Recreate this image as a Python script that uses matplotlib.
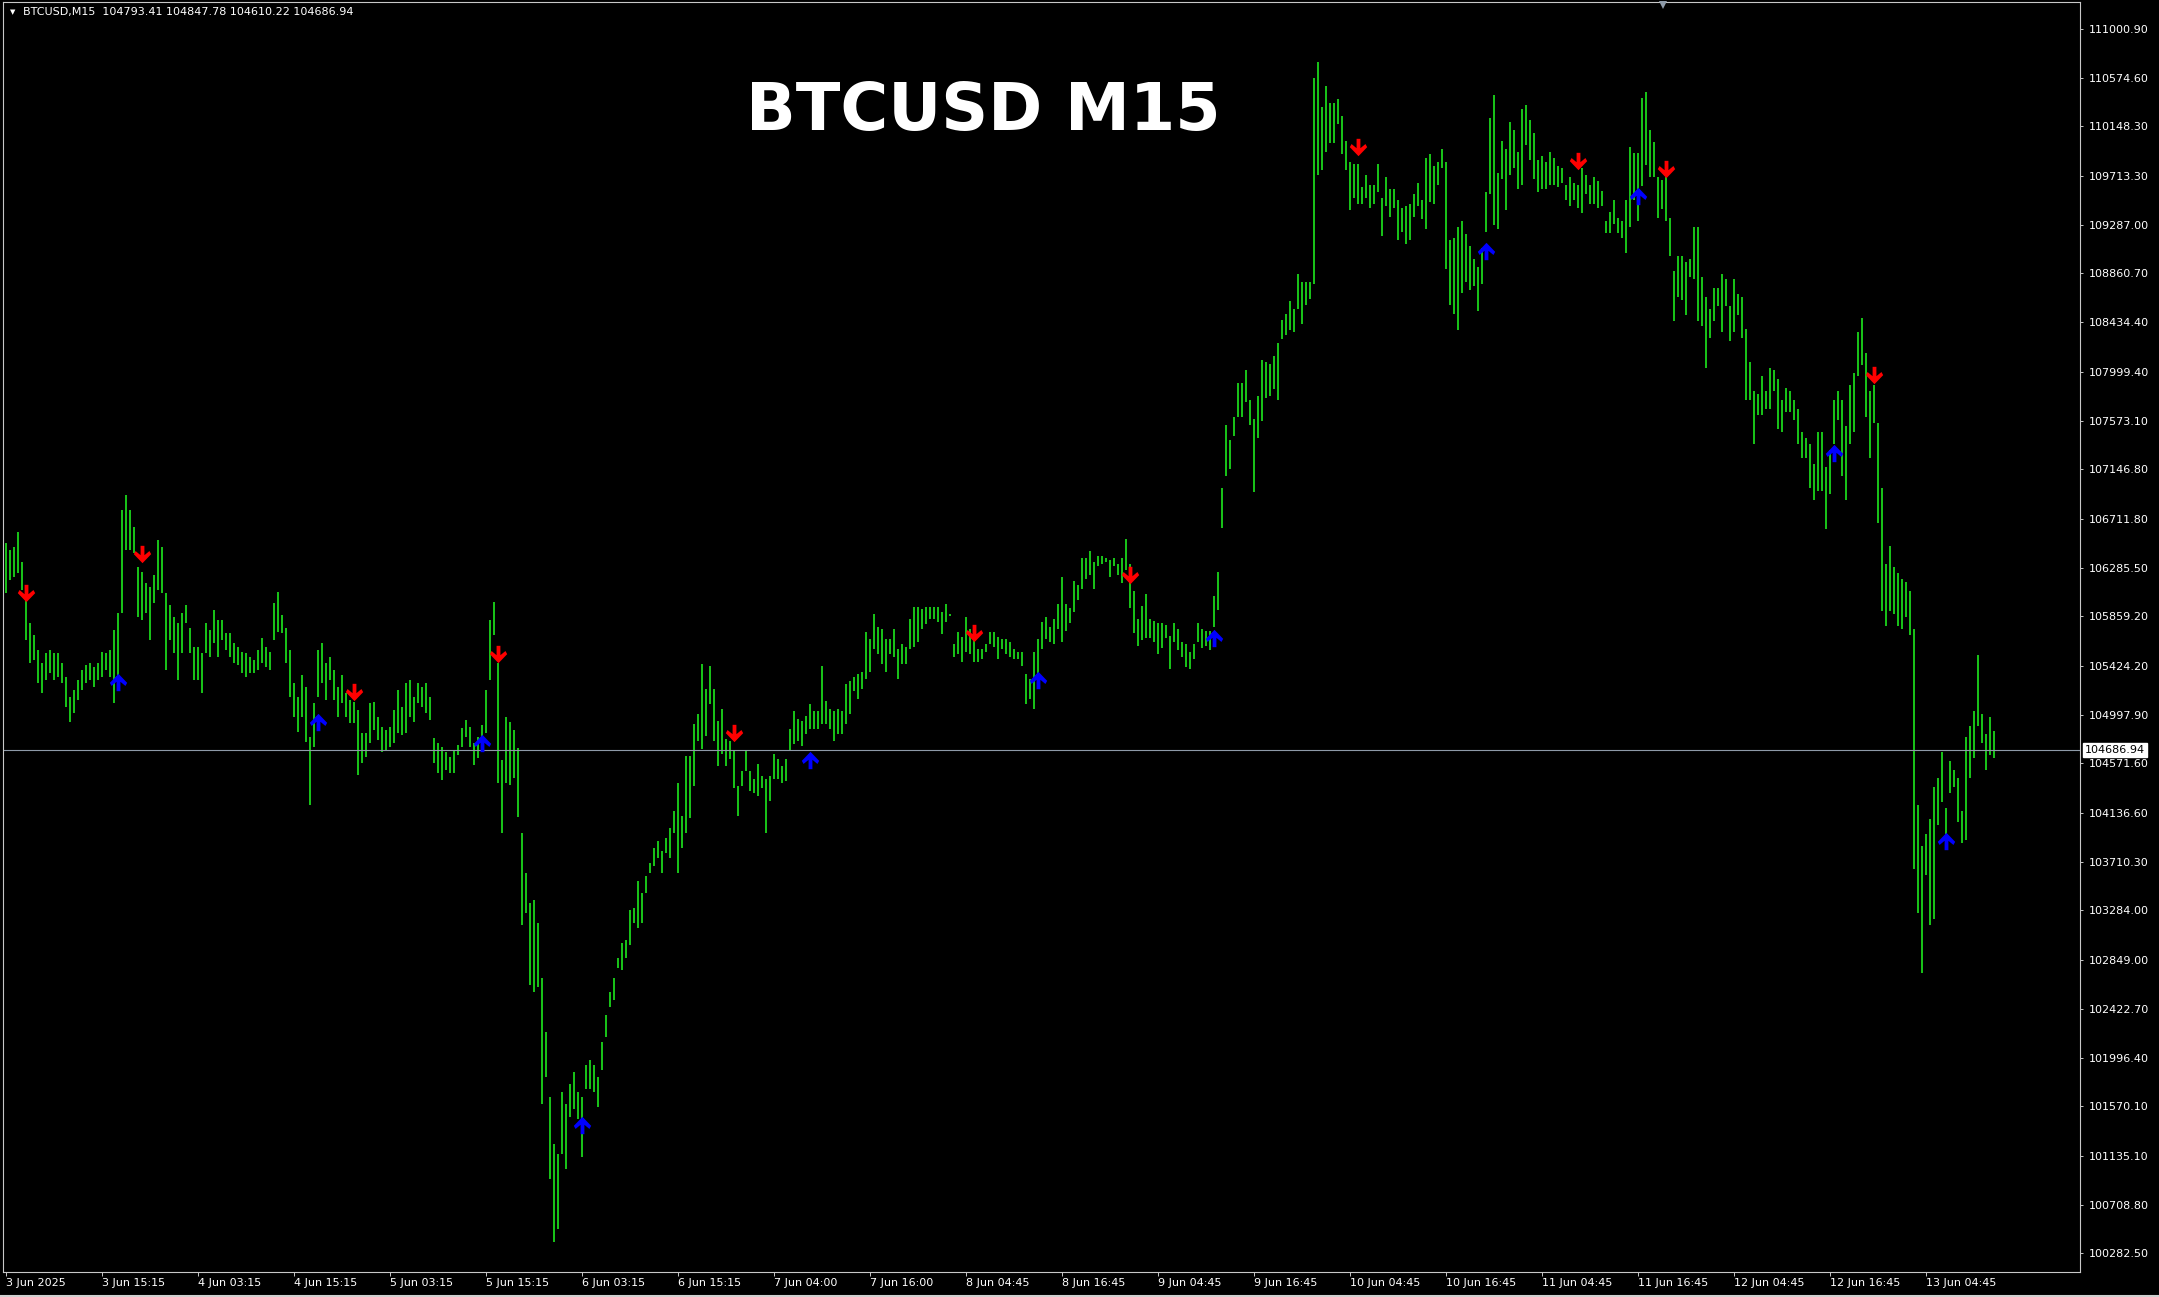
import matplotlib
matplotlib.use("Agg")
import matplotlib.pyplot as plt
from matplotlib.path import Path
from matplotlib.lines import Line2D
import numpy as np

# BTCUSD M15 - highs and lows (one entry = half an hour)
highs = [
    106498, 106440, 106469, 106600, 106337, 106016, 105798, 105695, 105564, 105447,
    105535, 105564, 105535, 105535, 105447, 105331, 105156, 105214, 105302, 105389,
    105433, 105447, 105418, 105447, 105550, 105535, 105564, 105739, 105885, 106790,
    106921, 106790, 106644, 106294, 106250, 106148, 106119, 106221, 106527, 106469,
    106060, 105958, 105856, 105798, 105885, 105958, 105754, 105593, 105593, 105535,
    105798, 105739, 105914, 105827, 105827, 105710, 105710, 105623, 105593, 105550,
    105535, 105506, 105477, 105564, 105666, 105593, 105550, 105973, 106075, 105871,
    105754, 105564, 105272, 105156, 105345, 105243, 104806, 105097, 105564, 105623,
    105447, 105506, 105389, 105243, 105345, 105185, 105127, 105112, 105039, 104835,
    104835, 105097, 105112, 104981, 104893, 104864, 104893, 105039, 105214, 105068,
    105272, 105302, 105156, 105272, 105243, 105272, 105156, 104791, 104747, 104718,
    104674, 104630, 104689, 104733, 104879, 104951, 104893, 104747, 104806, 104908,
    105214, 105827, 105987, 105447, 104601, 104981, 104937, 104864, 104703,
    103960, 103612, 103350, 103372, 103176, 102697, 102218, 101652, 101238, 101151,
    101695, 101586, 101761, 101869, 101695, 101652, 101935, 101978, 101935, 101826,
    102131, 102370, 102566, 102697, 102871, 103002, 103024, 103285, 103307, 103546,
    103438, 103590, 103699, 103830, 103895, 103808, 103917, 104004, 104156, 104396,
    104113, 104635, 104635, 104919, 105006, 105441, 105223, 105420, 105223, 104940,
    105049, 104788, 104766, 104679, 104374, 104505, 104679, 104505, 104439, 104570,
    104461, 104439, 104461, 104657, 104614, 104548, 104614, 104875, 105027, 104962,
    104940, 104984, 105093, 105027, 105027, 105420, 105115, 105049, 105027, 105049,
    105027, 105267, 105289, 105332, 105354, 105376, 105725, 105659, 105877, 105768,
    105746, 105659, 105659, 105746, 105572, 105616, 105594, 105833, 105942, 105942,
    105920, 105942, 105942, 105942, 105942, 105899, 105964, 105880, 105616, 105724,
    105681, 105855, 105746, 105659, 105572, 105572, 105616, 105724, 105724, 105681,
    105659, 105659, 105637, 105572, 105550, 105550, 105354, 105311, 105550, 105659,
    105812, 105855, 105768, 105833, 105964,
    106207, 105967, 105930, 106170, 106133, 106372, 106372, 106428, 106336, 106391,
    106391, 106372, 106354, 106372, 106317, 106372, 106538, 106317, 106078, 105838,
    105949, 106059, 105838, 105820, 105801, 105801, 105783, 105691, 105801, 105746,
    105636, 105617, 105543, 105617, 105801, 105746, 105728, 105728, 106041, 106244,
    106980, 107533, 107404, 107607, 107902, 107902, 108012, 107754, 107589, 107791,
    108104, 108086, 108067, 108141, 108252, 108455, 108510, 108620, 108547, 108860,
    108786, 108786, 108786, 110573, 110713, 110315, 110500, 110352, 110352, 110389,
    110242, 110021, 109836, 109818, 109818, 109615, 109726, 109634, 109634, 109818,
    109523, 109707, 109597, 109597, 109505, 109431, 109449, 109468, 109560, 109652,
    109505, 109873, 109910, 109800, 109836, 109947, 109836, 109155, 109173, 109265,
    109320, 109210, 109099, 108989, 108915, 109081, 109578, 110223, 110426, 109744,
    110021, 109947, 110186, 110113, 109928, 110297, 110334, 110205, 110094, 109855,
    109892, 109836, 109928, 109873, 109800, 109781, 109634, 109707, 109652, 109634,
    109781, 109726, 109634, 109707, 109671,
    109579, 109322, 109399, 109502, 109348, 109322, 109502, 109964, 109913, 109913,
    110401, 110452, 110118, 110015, 109707, 109682, 109707, 109348, 108885, 109014,
    109014, 108962, 108988, 109270, 109270, 108834, 108654, 108551, 108731, 108731,
    108860, 108808, 108577, 108808, 108680, 108654, 108371, 108089, 107832, 107806,
    107960, 107832, 108037, 108012, 107935, 107755, 107858, 107832, 107755, 107678,
    107472, 107421, 107369, 107190, 107472, 107472, 107164, 107318, 107755, 107832,
    107755, 107524, 107883, 107986, 108346, 108474, 108166, 107832, 107883, 107549,
    106984, 106316, 106471, 106291, 106239, 106188, 106162, 106085, 105751, 104210,
    103850, 103952, 104081, 104363, 104441, 104672, 104184, 104595, 104518, 104441,
    104158, 104800, 104903, 105031, 105520, 105006, 104826, 104980, 104852,
]

lows = [
    106060, 106177, 106206, 106235, 106089, 105652, 105447, 105477, 105272, 105185,
    105302, 105360, 105302, 105331, 105272, 105068, 104937, 105010, 105127, 105214,
    105272, 105302, 105243, 105302, 105331, 105389, 105331, 105097, 105214, 105885,
    106440, 106440, 106410, 105856, 105827, 105885, 105652, 105973, 106089, 106060,
    105389, 105652, 105535, 105302, 105535, 105798, 105535, 105302, 105302, 105185,
    105535, 105506, 105623, 105506, 105652, 105564, 105506, 105447, 105433, 105360,
    105331, 105360, 105360, 105389, 105447, 105418, 105389, 105652, 105725, 105710,
    105447, 105156, 104981, 104849, 104981, 104762, 104207, 104718, 105156, 105272,
    105127, 105302, 105127, 104981, 105097, 104981, 104922, 104922, 104470, 104572,
    104630, 104747, 104864, 104776, 104674, 104689, 104718, 104747, 104835, 104820,
    104835, 104981, 104937, 105097, 105068, 105010, 104951, 104572, 104485, 104426,
    104514, 104485, 104485, 104645, 104718, 104806, 104718, 104557, 104616, 104747,
    104835, 105302, 105695, 104397, 103959, 104397, 104382, 104441, 104105,
    103154, 103263, 102632, 102566, 102610, 101586, 101826, 100933, 100380, 100497,
    101151, 101020, 101477, 101543, 101455, 101129, 101717, 101717, 101695, 101564,
    101891, 102174, 102436, 102501, 102784, 102762, 102871, 102980, 103176, 103133,
    103176, 103438, 103612, 103677, 103743, 103612, 103786, 103743, 103961, 103612,
    103830, 103961, 104091, 104374, 104766, 104701, 104810, 105093, 104766, 104548,
    104657, 104548, 104614, 104352, 104113, 104374, 104505, 104331, 104309, 104287,
    104352, 103960, 104243, 104439, 104439, 104396, 104418, 104679, 104744, 104766,
    104723, 104831, 104875, 104875, 104875, 104919, 104919, 104875, 104766, 104831,
    104831, 104919, 105006, 105202, 105136, 105223, 105311, 105376, 105572, 105528,
    105441, 105376, 105528, 105507, 105311, 105441, 105441, 105572, 105594, 105637,
    105746, 105790, 105833, 105833, 105812, 105703, 105812, 105860, 105507, 105528,
    105463, 105550, 105528, 105463, 105463, 105485, 105550, 105616, 105594, 105485,
    105572, 105528, 105507, 105485, 105485, 105420, 105093, 105136, 105049, 105311,
    105572, 105659, 105637, 105616, 105746,
    105636, 105728, 105801, 105893, 106004, 106096, 106188, 106225, 106096, 106299,
    106317, 106336, 106207, 106299, 106225, 106151, 106262, 105930, 105709, 105599,
    105654, 105672, 105672, 105636, 105525, 105580, 105672, 105396, 105636, 105562,
    105507, 105414, 105396, 105488, 105636, 105580, 105599, 105562, 105764, 105912,
    106630, 107091, 107146, 107441, 107607, 107607, 107736, 107533, 106944, 107423,
    107570, 107773, 107791, 107846, 107754, 108289, 108326, 108363, 108344, 108547,
    108418, 108584, 108639, 108768, 109726, 109763, 109928, 110002, 110002, 110168,
    109910, 109763, 109413, 109523, 109468, 109468, 109523, 109431, 109468, 109578,
    109191, 109449, 109357, 109431, 109155, 109228, 109118, 109155, 109357, 109449,
    109339, 109247, 109486, 109468, 109634, 109781, 108897, 108584, 108510, 108362,
    108694, 108786, 108712, 108749, 108528, 108768, 109228, 109560, 109284, 109247,
    109689, 109413, 109726, 109781, 109597, 109634, 109984, 109855, 109689, 109578,
    109597, 109597, 109634, 109634, 109615, 109652, 109505, 109449, 109505, 109431,
    109394, 109560, 109468, 109468, 109431,
    109450, 109219, 109219, 109296, 109219, 109168, 109039, 109270, 109502, 109322,
    109630, 109810, 109707, 109707, 109348, 109425, 109322, 109014, 108448, 108654,
    108628, 108500, 108834, 108808, 108448, 108397, 108037, 108294, 108448, 108577,
    108346, 108577, 108268, 108346, 108500, 108294, 107755, 107755, 107369, 107626,
    107626, 107678, 107678, 107832, 107498, 107472, 107652, 107652, 107575, 107369,
    107241, 107241, 106984, 106881, 106958, 106958, 106624, 106933, 107369, 107575,
    107087, 106881, 107369, 107472, 107960, 108063, 107601, 107241, 107549, 106676,
    105905, 105777, 105905, 105880, 105777, 105751, 105854, 105700, 103644, 103259,
    102735, 103593, 103156, 103208, 104030, 104235, 103953, 104312, 104363, 104055,
    103876, 103902, 104441, 104621, 104903, 104749, 104518, 104646, 104621,
]

# signal arrows (bar index, price)
sell_idx = [5, 34, 87, 123, 182, 242, 281, 338, 393, 415, 467]
sell_price = [106066, 106405, 105194, 105529, 104836, 105711, 106225, 109965, 109844, 109774, 107976]
buy_idx = [28, 78, 119, 144, 201, 258, 302, 370, 408, 457, 485]
buy_price = [105287, 104937, 104747, 101403, 104605, 105302, 105669, 109059, 109538, 107292, 103891]

date_labels = ["3 Jun 2025", "3 Jun 15:15", "4 Jun 03:15", "4 Jun 15:15", "5 Jun 03:15",
               "5 Jun 15:15", "6 Jun 03:15", "6 Jun 15:15", "7 Jun 04:00", "7 Jun 16:00",
               "8 Jun 04:45", "8 Jun 16:45", "9 Jun 04:45", "9 Jun 16:45", "10 Jun 04:45",
               "10 Jun 16:45", "11 Jun 04:45", "11 Jun 16:45", "12 Jun 04:45", "12 Jun 16:45",
               "13 Jun 04:45"]
date_step = 24

price_ticks = [111000.90, 110574.60, 110148.30, 109713.30, 109287.00, 108860.70,
               108434.40, 107999.40, 107573.10, 107146.80, 106711.80, 106285.50,
               105859.20, 105424.20, 104997.90, 104571.60, 104136.60, 103710.30,
               103284.00, 102849.00, 102422.70, 101996.40, 101570.10, 101135.10,
               100708.80, 100282.50]

last_bar = [104793.41, 104847.78, 104610.22, 104686.94]
last_price = last_bar[3]

plt.rcParams['font.family'] = 'DejaVu Sans'

W, H = 2159, 1297
fig = plt.figure(figsize=(W / 100, H / 100), dpi=100, facecolor='black')
ax = fig.add_axes([3 / W, 25 / H, 2077 / W, 1270 / H])
ax.set_facecolor('black')

# price bars
x = np.arange(len(highs))
ax.vlines(x, lows, highs, colors='#18c018', linewidth=1.44, antialiased=False)

# current price line
ax.axhline(last_price, color='#8e9aa8', linewidth=0.8)

# arrow markers
down = [(-0.11, 0.5), (0.11, 0.5), (0.11, -0.04), (0.40, 0.20), (0.5, 0.02), (0.0, -0.5),
        (-0.5, 0.02), (-0.40, 0.20), (-0.11, -0.04), (-0.11, 0.5)]
up = [(vx, -vy) for vx, vy in down]
ax.plot(sell_idx, sell_price, linestyle='none', marker=Path(down), markersize=12.5,
        color='#ff0000', markeredgewidth=0)
ax.plot(buy_idx, buy_price, linestyle='none', marker=Path(up), markersize=12.5,
        color='#0000ff', markeredgewidth=0)

ax.set_xlim(-0.65, 518.6)
ax.set_ylim(100119.1, 111237.3)

# axes look
for s in ax.spines.values():
    s.set_color('#c8c8c8')
    s.set_linewidth(0.8)

ax.yaxis.tick_right()
ax.set_yticks(price_ticks)
ax.set_yticklabels(["%.2f" % p for p in price_ticks])
ax.tick_params(axis='y', length=2.5, width=0.7, color='#c8c8c8', labelcolor='white',
               labelsize=8, pad=3.5)

ax.set_xticks(np.arange(len(date_labels)) * date_step)
ax.set_xticklabels(date_labels, ha='left')
ax.tick_params(axis='x', length=3, width=0.7, color='#c8c8c8', labelcolor='white',
               labelsize=8, pad=1.5)

# price tag on the axis
ax.text(1.0022, last_price, "%.2f" % last_price, transform=ax.get_yaxis_transform(),
        ha='left', va='center', fontsize=8, color='black',
        bbox=dict(boxstyle='square,pad=0.18', fc='white', ec='white'))

# header and title
fig.text(10 / W, 1 - 12 / H, "\u25bc", fontsize=5, color='white', va='center')
fig.text(23 / W, 1 - 12 / H, "BTCUSD,M15  " + " ".join("%.2f" % v for v in last_bar),
         fontsize=8, color='white', va='center')
fig.text(983 / W, 1 - 112 / H, "BTCUSD M15", fontsize=47, fontweight='bold',
         color='white', ha='center', va='center')

# small shift marker at the top
fig.add_artist(Line2D([1663 / W], [1 - 5 / H], marker='v', markersize=6, color='#8e9aa8',
                      markeredgewidth=0, transform=fig.transFigure))

# light window edge at the bottom
fig.add_artist(Line2D([0, 1], [1 / H, 1 / H], color='#d0d0d0', linewidth=1.5,
                      transform=fig.transFigure))

fig.savefig("out.png", dpi=100, facecolor='black')
